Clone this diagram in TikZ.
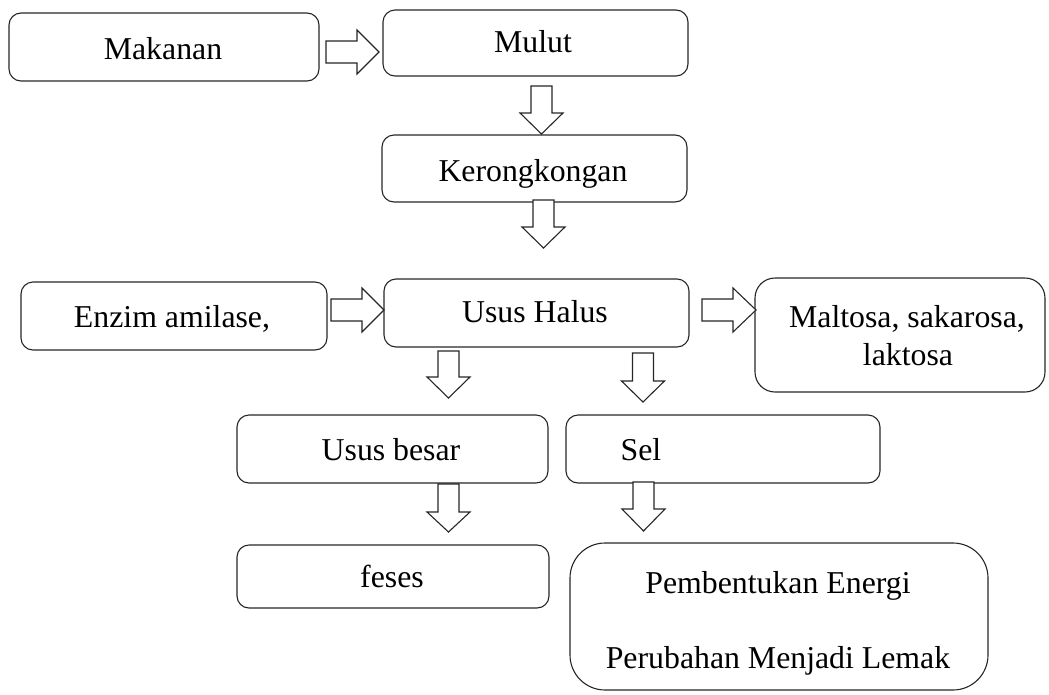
\documentclass[tikz,border=0pt]{standalone}
\usepackage{fontspec}
\setmainfont{Liberation Serif}
\begin{document}
\begin{tikzpicture}[x=1pt,y=-1pt,
  box/.style={draw=black!85, line width=1.1pt, rectangle, inner sep=0pt},
  lbl/.style={anchor=base, inner sep=0pt, font=\fontsize{31.8}{38}\selectfont},
  blockarrow/.style={draw=black!85, line width=1.1pt, line join=miter, fill=white}]
\useasboundingbox (0,0) rectangle (1049,694);
\newcommand{\DArrow}[4]{% x, ytop, yhead, ytip
  \draw[blockarrow] (#1-10.5,#2) -- (#1+10.5,#2) -- (#1+10.5,#3) -- (#1+21.5,#3)
    -- (#1,#4) -- (#1-21.5,#3) -- (#1-10.5,#3) -- cycle;}
\newcommand{\RArrow}[4]{% xleft, xhead, xtip, ymid
  \draw[blockarrow] (#1,#4-11) -- (#2,#4-11) -- (#2,#4-22) -- (#3,#4)
    -- (#2,#4+22) -- (#2,#4+11) -- (#1,#4+11) -- cycle;}
% boxes
\node[box, rounded corners=12pt, minimum width=310pt, minimum height=68pt] (mak) at (164,47) {};
\node[box, rounded corners=12pt, minimum width=305pt, minimum height=66pt] (mul) at (535.5,43) {};
\node[box, rounded corners=12pt, minimum width=305pt, minimum height=67pt] (ker) at (534.5,168.5) {};
\node[box, rounded corners=12pt, minimum width=306pt, minimum height=68pt] (enz) at (174,316) {};
\node[box, rounded corners=12pt, minimum width=305pt, minimum height=68pt] (hal) at (536.5,313) {};
\node[box, rounded corners=20pt, minimum width=290pt, minimum height=114pt] (mal) at (900,335) {};
\node[box, rounded corners=12pt, minimum width=311pt, minimum height=68pt] (bes) at (392.5,449) {};
\node[box, rounded corners=12pt, minimum width=314pt, minimum height=68pt] (sel) at (723,449) {};
\node[box, rounded corners=12pt, minimum width=312pt, minimum height=63pt] (fes) at (393,576.5) {};
\node[box, rounded corners=35pt, minimum width=418pt, minimum height=147pt] (pem) at (779,616.5) {};
% labels
\node[lbl] (tmak) at (163,59) {Makanan};
\node[lbl] (tmul) at (533,52) {Mulut};
\node[lbl] (tker) at (533,181) {Kerongkongan};
\node[lbl] (tenz) at (172,327) {Enzim amilase,};
\node[lbl] (thal) at (535,322) {Usus Halus};
\node[lbl] (tmal1) at (907,327) {Maltosa, sakarosa,};
\node[lbl] (tmal2) at (908,365) {laktosa};
\node[lbl] (tbes) at (391,460) {Usus besar};
\node[lbl] (tsel) at (641,460) {Sel};
\node[lbl] (tfes) at (392,587) {feses};
\node[lbl] (tpem1) at (778,593) {Pembentukan Energi};
\node[lbl] (tpem2) at (778,668) {Perubahan Menjadi Lemak};
% block arrows
\RArrow{326}{357}{379}{52}
\RArrow{331}{362}{384}{310}
\RArrow{702}{733}{756}{310}
\DArrow{541.5}{86}{113}{134}
\DArrow{543.5}{200}{227}{248}
\DArrow{448.5}{351}{377}{398}
\DArrow{643}{353}{381}{402}
\DArrow{448.5}{484}{512}{532}
\DArrow{643.5}{482}{509}{531}
\end{tikzpicture}
\end{document}
